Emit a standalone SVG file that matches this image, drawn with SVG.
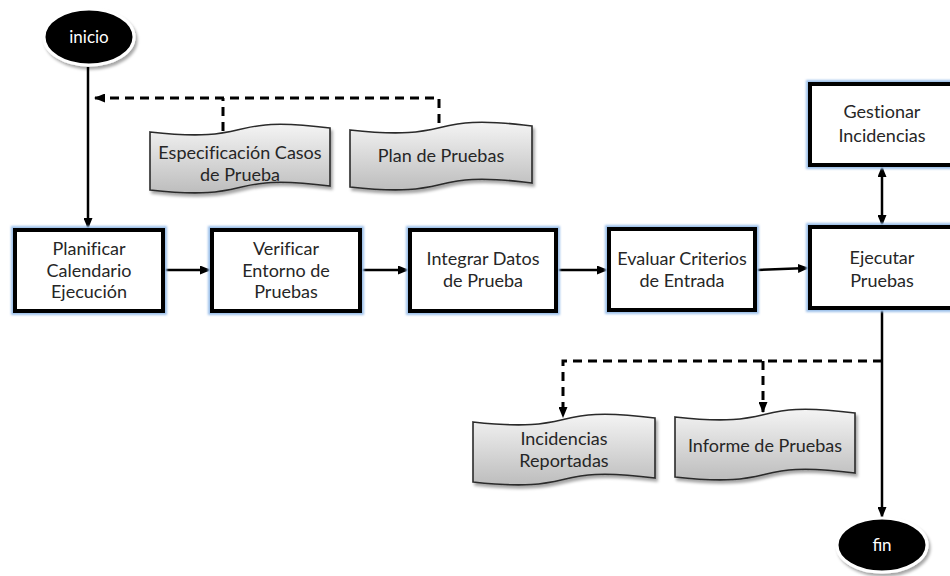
<svg xmlns="http://www.w3.org/2000/svg" width="950" height="576" viewBox="0 0 950 576">
<defs>
<marker id="ah" markerUnits="userSpaceOnUse" markerWidth="11" markerHeight="9" refX="10" refY="4.5" orient="auto-start-reverse" viewBox="0 0 11 9">
<path d="M0,0 L11,4.5 L0,9 Z" fill="#000"/>
</marker>
<linearGradient id="docg" x1="0" y1="0" x2="0" y2="1">
<stop offset="0" stop-color="#f4f4f4"/>
<stop offset="1" stop-color="#bdbdbd"/>
</linearGradient>
<filter id="sh" x="-10%" y="-10%" width="130%" height="140%">
<feDropShadow dx="2" dy="3" stdDeviation="1.5" flood-color="#000" flood-opacity="0.35"/>
</filter>
<filter id="glow" x="-10%" y="-10%" width="120%" height="130%">
<feGaussianBlur stdDeviation="1"/>
</filter>
</defs>
<style>
.glow{fill:none;stroke:#9cc0ea;stroke-width:8;filter:url(#glow)}
.box{fill:#fff;stroke:#000;stroke-width:4}
.doc{fill:url(#docg);stroke:#2a2a2a;stroke-width:1.6;filter:url(#sh)}
.t{font-family:Lato,"Liberation Sans",sans-serif;font-size:18px;fill:#262626;text-anchor:middle;font-variant-ligatures:none}
.tw{font-family:Lato,"Liberation Sans",sans-serif;font-size:17px;fill:#fff;text-anchor:middle}
.term{fill:#000;stroke:#fff;stroke-width:3;filter:url(#sh)}
.c{fill:none;stroke:#000;stroke-width:2.5}
.d{fill:none;stroke:#000;stroke-width:3;stroke-dasharray:9 6}
</style>

<g id="connectors">
<path class="c" d="M88,67 V228" marker-end="url(#ah)"/>
<path class="c" d="M165,270 H210" marker-end="url(#ah)"/>
<path class="c" d="M362,270 H408" marker-end="url(#ah)"/>
<path class="c" d="M558,270 H607" marker-end="url(#ah)"/>
<path class="c" d="M757,270 L808,268" marker-end="url(#ah)"/>
<path class="c" d="M882,167 V225" marker-start="url(#ah)" marker-end="url(#ah)"/>
<path class="c" d="M882,310 V517" marker-end="url(#ah)"/>
<path class="d" d="M439,123 V98 H95" marker-end="url(#ah)"/>
<path class="d" d="M223,131 V98"/>
<path class="d" d="M882,361 H563 V417" marker-end="url(#ah)"/>
<path class="d" d="M763,361 V412" marker-end="url(#ah)"/>
</g>

<g id="inicio">
<ellipse class="term" cx="89" cy="37" rx="45" ry="28"/>
<text class="tw" x="89" y="43">inicio</text>
</g>

<g id="fin">
<ellipse class="term" cx="882" cy="545" rx="45" ry="27"/>
<text class="tw" x="882" y="551">fin</text>
</g>

<g id="espec">
<path class="doc" d="M150,132 C258,144 222,114 330,128 V186 C222,172 258,202 150,190 Z"/>
<text class="t" x="240" y="159">Especificación Casos</text>
<text class="t" x="240" y="181">de Prueba</text>
</g>

<g id="plan">
<path class="doc" d="M350,130 C459,142 423,112 532,126 V183 C423,169 459,199 350,187 Z"/>
<text class="t" x="441" y="162">Plan de Pruebas</text>
</g>

<g id="incid">
<path class="doc" d="M473,422 C582,434 546,404 655,418 V478 C546,464 582,494 473,482 Z"/>
<text class="t" x="564" y="445">Incidencias</text>
<text class="t" x="564" y="467">Reportadas</text>
</g>

<g id="informe">
<path class="doc" d="M675,417 C783,429 747,399 855,413 V473 C747,459 783,489 675,477 Z"/>
<text class="t" x="765" y="452">Informe de Pruebas</text>
</g>

<g id="planificar">
<rect class="glow" x="15" y="230" width="148" height="81"/>
<rect class="box" x="15" y="230" width="148" height="81"/>
<text class="t" x="89" y="255">Planificar</text>
<text class="t" x="89" y="277">Calendario</text>
<text class="t" x="89" y="298">Ejecución</text>
</g>

<g id="verificar">
<rect class="glow" x="212" y="230" width="148" height="81"/>
<rect class="box" x="212" y="230" width="148" height="81"/>
<text class="t" x="286" y="255">Verificar</text>
<text class="t" x="286" y="277">Entorno de</text>
<text class="t" x="286" y="298">Pruebas</text>
</g>

<g id="integrar">
<rect class="glow" x="410" y="230" width="146" height="81"/>
<rect class="box" x="410" y="230" width="146" height="81"/>
<text class="t" x="483" y="265">Integrar Datos</text>
<text class="t" x="483" y="287">de Prueba</text>
</g>

<g id="evaluar">
<rect class="glow" x="609" y="229" width="146" height="81"/>
<rect class="box" x="609" y="229" width="146" height="81"/>
<text class="t" x="682" y="265">Evaluar Criterios</text>
<text class="t" x="682" y="287">de Entrada</text>
</g>

<g id="ejecutar">
<rect class="glow" x="810" y="227" width="146" height="81"/>
<rect class="box" x="810" y="227" width="146" height="81"/>
<text class="t" x="882" y="264">Ejecutar</text>
<text class="t" x="882" y="287">Pruebas</text>
</g>

<g id="gestionar">
<rect class="glow" x="810" y="84" width="146" height="81"/>
<rect class="box" x="810" y="84" width="146" height="81"/>
<text class="t" x="882" y="118">Gestionar</text>
<text class="t" x="882" y="142">Incidencias</text>
</g>
</svg>
